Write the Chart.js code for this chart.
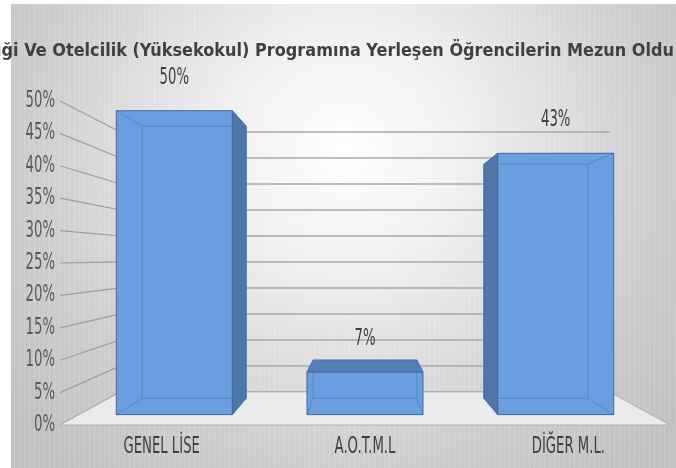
<!DOCTYPE html>
<html><head><meta charset="utf-8">
<script src="https://cdn.jsdelivr.net/npm/chart.js@4.4.1/dist/chart.umd.min.js"></script>
<style>html,body{margin:0;padding:0;background:#fff}canvas{display:block}</style>
</head><body>
<canvas id="c" width="676" height="468" style="width:676px;height:468px"></canvas>
<script>
// ---- data ----
const TITLE = 'iği Ve Otelcilik (Yüksekokul) Programına Yerleşen Öğrencilerin Mezun Oldu';
const CATEGORIES = ['GENEL LİSE', 'A.O.T.M.L', 'DİĞER M.L.'];
const VALUES = [0.50, 0.07, 0.43];
const VALUE_LABELS = ['50%', '7%', '43%'];
const TICK_LABELS = ['0%', '5%', '10%', '15%', '20%', '25%', '30%', '35%', '40%', '45%', '50%'];

// ---- style / perspective constants ----
const FONT = "'DejaVu Sans'";
const LABEL_SX = 0.575;         // horizontal squeeze of small labels
const BAR_FRONT = 0.938;        // depth scale of bar front faces
const BAR_BACK = 0.84;          // depth scale of bar back faces
const WALL = 0.802;             // depth scale of back wall
const VP_VALUE = 0.258;         // value at which the vanishing point sits
const LABEL_GAP = 33;

// horizontal text squeeze (the reference uses narrow, tall lettering)
const proto = CanvasRenderingContext2D.prototype;
const origFill = proto.fillText, origMeasure = proto.measureText;
let TITLE_SX = 1;
(function () {
  const t = document.createElement('canvas').getContext('2d');
  t.font = 'bold 18.5px ' + FONT;
  TITLE_SX = 678 / origMeasure.call(t, TITLE).width;
})();
function sxFor(ctx) {
  const f = ctx.font;
  if (f.indexOf('DejaVu') < 0) return 1;
  return (f.indexOf('bold') >= 0 || f.indexOf('700') >= 0) ? TITLE_SX : LABEL_SX;
}
proto.fillText = function (t, x, y, mw) {
  const s = sxFor(this);
  if (s === 1) return origFill.call(this, t, x, y, mw);
  this.save(); this.translate(x, y); this.scale(s, 1);
  origFill.call(this, t, 0, 0); this.restore();
};
proto.measureText = function (t) {
  const m = origMeasure.call(this, t);
  const s = sxFor(this);
  if (s === 1) return m;
  return { width: m.width * s, actualBoundingBoxAscent: m.actualBoundingBoxAscent,
    actualBoundingBoxDescent: m.actualBoundingBoxDescent,
    actualBoundingBoxLeft: m.actualBoundingBoxLeft * s, actualBoundingBoxRight: m.actualBoundingBoxRight * s };
};

function vpOf(chart) {
  const a = chart.chartArea;
  return { x: (a.left + a.right) / 2, y: chart.scales.y.getPixelForValue(VP_VALUE) };
}
function proj(vp, x, y, s) { return [vp.x + s * (x - vp.x), vp.y + s * (y - vp.y)]; }
function poly(ctx, pts, fill, stroke, lw) {
  ctx.beginPath();
  ctx.moveTo(pts[0][0], pts[0][1]);
  for (let i = 1; i < pts.length; i++) ctx.lineTo(pts[i][0], pts[i][1]);
  ctx.closePath();
  if (fill) { ctx.fillStyle = fill; ctx.fill(); }
  if (stroke) { ctx.strokeStyle = stroke; ctx.lineWidth = lw || 1; ctx.stroke(); }
}
function line(ctx, a, b, color, lw) {
  ctx.beginPath(); ctx.moveTo(a[0], a[1]); ctx.lineTo(b[0], b[1]);
  ctx.strokeStyle = color; ctx.lineWidth = lw || 1; ctx.stroke();
}

const scene3d = {
  id: 'scene3d',
  beforeDraw(chart) {
    const { ctx, width, height } = chart;
    ctx.save();
    ctx.fillStyle = '#ffffff';
    ctx.fillRect(0, 0, width, height);
    const g = ctx.createRadialGradient(345, 150, 0, 345, 150, 430);
    g.addColorStop(0, '#ffffff');
    g.addColorStop(0.28, '#f0f0f0');
    g.addColorStop(0.7, '#cfcfcf');
    g.addColorStop(1, '#c0c0c0');
    ctx.fillStyle = g;
    ctx.fillRect(11, 4, width - 11, height - 4);
    // faint vertical texture
    ctx.strokeStyle = 'rgba(255,255,255,0.14)';
    ctx.lineWidth = 1;
    for (let x = 14; x < width; x += 5) {
      ctx.beginPath(); ctx.moveTo(x + 0.5, 4); ctx.lineTo(x + 0.5, height); ctx.stroke();
    }
    ctx.restore();
  },
  beforeDatasetsDraw(chart) {
    const { ctx, chartArea: a } = chart;
    const yS = chart.scales.y;
    const vp = vpOf(chart);
    ctx.save();
    // gridlines on left wall and back wall
    TICK_LABELS.forEach((_, i) => {
      const v = i * 0.05;
      const yF = yS.getPixelForValue(v);
      const bl = proj(vp, a.left, yF, WALL), br = proj(vp, a.right, yF, WALL);
      line(ctx, [a.left, yF], bl, '#9c9c9c', 1.2);
      line(ctx, bl, br, '#a8a8a8', 1.5);
    });
    // floor
    const y0 = yS.getPixelForValue(0);
    poly(ctx, [[a.left, y0], [a.right, y0], proj(vp, a.right, y0, WALL), proj(vp, a.left, y0, WALL)],
      '#ebebeb', '#b0b0b0', 1);
    ctx.restore();
  },
  afterDatasetsDraw(chart) {
    const { ctx } = chart;
    const yS = chart.scales.y;
    const vp = vpOf(chart);
    const meta = chart.getDatasetMeta(0);
    ctx.save();
    meta.data.forEach((el, i) => {
      const half = el.width / 2, x = el.x;
      const yT = yS.getPixelForValue(VALUES[i]), yB = yS.getPixelForValue(0);
      const F = (px, py) => proj(vp, px, py, BAR_FRONT);
      const B = (px, py) => proj(vp, px, py, BAR_BACK);
      const fTL = F(x - half, yT), fTR = F(x + half, yT), fBL = F(x - half, yB), fBR = F(x + half, yB);
      const bTL = B(x - half, yT), bTR = B(x + half, yT), bBL = B(x - half, yB), bBR = B(x + half, yB);
      const edge = '#41689c';
      // visible side faces
      if (bTR[0] > fTR[0]) poly(ctx, [fTR, bTR, bBR, fBR], '#4f76a6', edge, 1);
      if (bTL[0] < fTL[0]) poly(ctx, [bTL, fTL, fBL, bBL], '#4f76a6', edge, 1);
      if (bTL[1] < fTL[1]) poly(ctx, [bTL, bTR, fTR, fTL], '#5680b8', edge, 1);
      // front face
      poly(ctx, [fTL, fTR, fBR, fBL], '#6a9fdf', null);
      // hidden edges seen through the translucent bar
      const inner = 'rgba(70,125,200,0.7)';
      line(ctx, bTL, bTR, inner); line(ctx, bTR, bBR, inner);
      line(ctx, bBR, bBL, inner); line(ctx, bBL, bTL, inner);
      line(ctx, fTL, bTL, inner); line(ctx, fTR, bTR, inner);
      line(ctx, fBL, bBL, inner); line(ctx, fBR, bBR, inner);
      poly(ctx, [fTL, fTR, fBR, fBL], null, edge, 1);
      // value label
      ctx.font = '23px ' + FONT;
      ctx.fillStyle = '#404040';
      ctx.textAlign = 'center';
      ctx.textBaseline = 'middle';
      ctx.fillText(VALUE_LABELS[i], (fTL[0] + fTR[0]) / 2, fTL[1] - LABEL_GAP);
    });
    ctx.restore();
  }
};

new Chart(document.getElementById('c'), {
  type: 'bar',
  data: {
    labels: CATEGORIES,
    datasets: [{
      data: VALUES,
      backgroundColor: 'rgba(0,0,0,0)',
      borderWidth: 0,
      barPercentage: 0.608,
      categoryPercentage: 1.0
    }]
  },
  options: {
    responsive: false,
    animation: false,
    devicePixelRatio: 1,
    layout: { padding: { left: 0, right: 6, top: 0, bottom: 0 } },
    plugins: {
      legend: { display: false },
      tooltip: { enabled: false },
      title: {
        display: true,
        text: TITLE,
        color: '#404040',
        font: { family: FONT, weight: 'bold', size: 18.5, lineHeight: 1.2 },
        padding: { top: 40, bottom: 38.8 }
      }
    },
    scales: {
      x: {
        grid: { display: false, drawTicks: false },
        border: { display: false },
        ticks: { color: '#404040', font: { family: FONT, size: 23 }, padding: 8,
          maxRotation: 0, autoSkip: false },
        afterFit(s) { s.height = 43; }
      },
      y: {
        min: 0, max: 0.5,
        grid: { display: false, drawTicks: false },
        border: { display: false },
        ticks: { stepSize: 0.05, color: '#595959', font: { family: FONT, size: 23 }, padding: 5,
          callback: (v, i) => TICK_LABELS[i] },
        afterFit(s) { s.width = 60; }
      }
    }
  },
  plugins: [scene3d]
});
</script>
</body></html>
